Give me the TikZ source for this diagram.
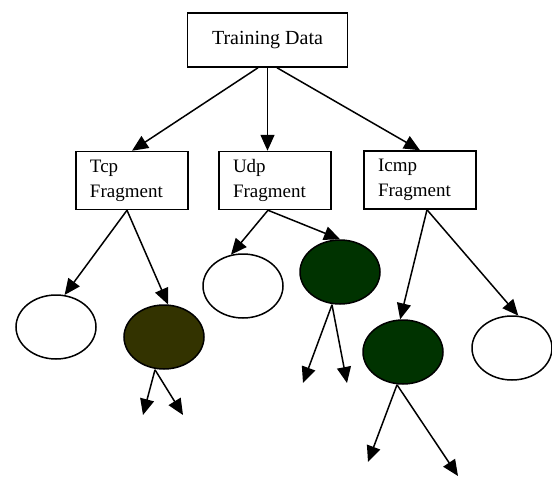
\documentclass[tikz,border=0pt]{standalone}
\usepackage{fontspec}
\setmainfont{Liberation Serif}
\usetikzlibrary{shapes.geometric,arrows.meta}
\definecolor{oliveleaf}{RGB}{51,51,0}
\definecolor{darkleaf}{RGB}{0,51,0}
\begin{document}
\begin{tikzpicture}[
    x=0.5pt, y=-0.5pt,
    edge/.style={line width=0.75pt, -{Triangle[length=8pt,width=7pt]}},
    rootbox/.style={rectangle, draw, line width=0.75pt, minimum width=80pt, minimum height=27pt, font=\fontsize{10}{12}\selectfont},
    fragbox/.style={rectangle, draw, line width=0.75pt, minimum height=29pt, text width=42pt, inner xsep=7pt, align=left, font=\fontsize{9.5}{12.5}\selectfont},
    leaf/.style={ellipse, draw, line width=0.75pt, minimum width=40pt, minimum height=32pt, inner sep=0pt}
  ]
    \useasboundingbox (0,0) rectangle (552,477);

    % Root
    \node[rootbox] (td) at (267.5,40) {Training Data};

    % Fragments
    \node[fragbox] (tcp) at (132,180.5) {Tcp\\Fragment};
    \node[fragbox] (udp) at (275,180.5) {Udp\\Fragment};
    \node[fragbox] (icmp) at (420,180) {Icmp\\Fragment};

    % Leaves
    \node[leaf] (tcpa) at (56,327) {};
    \node[leaf, fill=oliveleaf] (tcpb) at (164,337) {};
    \node[leaf] (udpa) at (243,286) {};
    \node[leaf, fill=darkleaf] (udpb) at (340,272) {};
    \node[leaf, fill=darkleaf] (icmpa) at (403,352) {};
    \node[leaf] (icmpb) at (512,348) {};

    % Open ends
    \coordinate (tcpb1) at (143,415);
    \coordinate (tcpb2) at (183,415);
    \coordinate (udpb1) at (303,383);
    \coordinate (udpb2) at (347,383);
    \coordinate (icmpa1) at (368,462);
    \coordinate (icmpa2) at (458,476);

    % Root to fragments
    \draw[edge] ([xshift=-4.75pt]td.south) -- (tcp.north);
    \draw[edge] (td.south) -- (td.south |- udp.north);
    \draw[edge] ([xshift=4.75pt]td.south) -- (icmp.north);

    % Fragments to leaves
    \draw[edge] ([xshift=-2.5pt]tcp.south) -- (tcpa.75);
    \draw[edge] ([xshift=-2.5pt]tcp.south) -- (tcpb.83);
    \draw[edge] ([xshift=-3.5pt]udp.south) -- (udpa.111);
    \draw[edge] ([xshift=-3.5pt]udp.south) -- (udpb.90);
    \draw[edge] ([xshift=3.5pt]icmp.south) -- (icmpa.95);
    \draw[edge] ([xshift=3.5pt]icmp.south) -- (icmpb.79);

    % Leaves to open ends
    \draw[edge] ([xshift=-4.5pt]tcpb.south) -- (tcpb1);
    \draw[edge] ([xshift=-4.5pt]tcpb.south) -- (tcpb2);
    \draw[edge] ([xshift=-4pt]udpb.south) -- (udpb1);
    \draw[edge] ([xshift=-4pt]udpb.south) -- (udpb2);
    \draw[edge] ([xshift=-3pt]icmpa.south) -- (icmpa1);
    \draw[edge] ([xshift=-3pt]icmpa.south) -- (icmpa2);
  \end{tikzpicture}
\end{document}
